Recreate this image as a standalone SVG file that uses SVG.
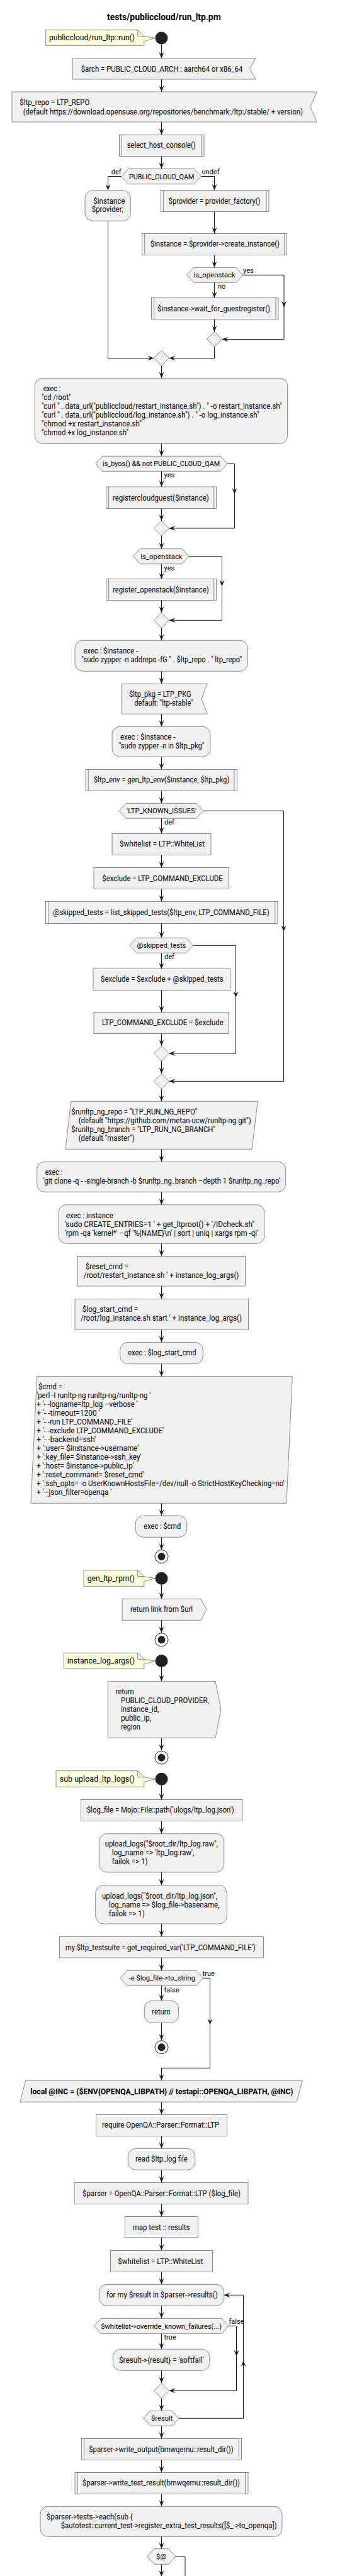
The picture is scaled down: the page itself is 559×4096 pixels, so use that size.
<svg xmlns="http://www.w3.org/2000/svg" width="559" height="4096" viewBox="0 0 559 4096">
<defs>
<style>
text{font-family:Roboto,"Liberation Sans",sans-serif;font-size:12px;fill:#000000}
.ttl{font-size:14px;font-weight:bold}
.nt{font-size:13px}
.s{font-size:11px}
.bd{font-weight:bold}
.b{fill:#F1F1F1;stroke:#181818;stroke-width:0.5}
.n{fill:#FEFFDD;stroke:#181818;stroke-width:0.5}
.f{fill:none;stroke:#181818;stroke-width:0.5}
.c{fill:none;stroke:#181818;stroke-width:1}
.ca{fill:none;stroke:#181818;stroke-width:1;marker-end:url(#ah)}
.st{fill:#222222}
.en{fill:none;stroke:#222222;stroke-width:1}
</style>
<marker id="ah" markerWidth="10" markerHeight="8" refX="10" refY="4" orient="auto" markerUnits="userSpaceOnUse"><path d="M0,0 L10,4 L0,8 L4,4 Z" fill="#181818"/></marker>
</defs>
<rect x="0" y="0" width="559" height="4096" fill="#FFFFFF"/>
<text class="ttl" x="170" y="32.3" textLength="180.7" lengthAdjust="spacingAndGlyphs">tests/publiccloud/run_ltp.pm</text>

<g id="connectors">
<path class="ca" d="M256.5,70.5 V92.7"/>
<path class="ca" d="M256.5,126 V146"/>
<path class="ca" d="M256.5,194 V214.3"/>
<path class="ca" d="M256.5,248.7 V268.3"/>
<path class="ca" d="M192.7,280.5 H171.5 V302.7"/>
<path class="ca" d="M319.3,280.5 H340.5 V302.7"/>
<path class="ca" d="M340.5,336.7 V371.3"/>
<path class="ca" d="M340.5,405.3 V425.3"/>
<path class="ca" d="M340.5,449.3 V473.7"/>
<path class="ca" d="M385.7,437.3 H451 V488.7"/>
<path class="ca" d="M451,488.7 V539.5 H352.5"/>
<path class="ca" d="M340.5,507.3 V527.5"/>
<path class="ca" d="M340.5,551.5 V569.5 H268.5"/>
<path class="ca" d="M171.5,351.3 V569.5 H244.5"/>
<path class="ca" d="M256.5,581.5 V601.3"/>
<path class="ca" d="M256.5,705.3 V725.3"/>
<path class="ca" d="M256.5,749.3 V774"/>
<path class="ca" d="M361,737.3 H372.5 V785.7"/>
<path class="ca" d="M372.5,785.7 V840 H268.5"/>
<path class="ca" d="M256.5,808.7 V828"/>
<path class="ca" d="M256.5,852 V872.7"/>
<path class="ca" d="M256.5,896.7 V920.7"/>
<path class="ca" d="M300,884.7 H352.5 V932.3"/>
<path class="ca" d="M352.5,932.3 V986.3 H268.5"/>
<path class="ca" d="M256.5,954.3 V974.3"/>
<path class="ca" d="M256.5,998.3 V1018.3"/>
<path class="ca" d="M256.5,1067.3 V1087.3"/>
<path class="ca" d="M256.5,1135.3 V1155.3"/>
<path class="ca" d="M256.5,1203.3 V1223.3"/>
<path class="ca" d="M256.5,1257.3 V1277.3"/>
<path class="ca" d="M256.5,1301.3 V1325.3"/>
<path class="ca" d="M322.7,1289.3 H450.5 V1481.3"/>
<path class="ca" d="M450.5,1481.3 V1719.3 H268.5"/>
<path class="ca" d="M256.5,1359.3 V1379.7"/>
<path class="ca" d="M256.5,1413.3 V1433.3"/>
<path class="ca" d="M256.5,1468.3 V1491.3"/>
<path class="ca" d="M256.5,1515.3 V1540.7"/>
<path class="ca" d="M306.7,1503.3 H374.5 V1586.3"/>
<path class="ca" d="M374.5,1586.3 V1675 H268.5"/>
<path class="ca" d="M256.5,1574.3 V1609.3"/>
<path class="ca" d="M256.5,1643.3 V1663"/>
<path class="ca" d="M256.5,1687 V1707.3"/>
<path class="ca" d="M256.5,1731.3 V1751.3"/>
<path class="ca" d="M256.5,1827.3 V1847.3"/>
<path class="ca" d="M256.5,1895.3 V1915.7"/>
<path class="ca" d="M256.5,1977.3 V1997.3"/>
<path class="ca" d="M256.5,2045 V2065.3"/>
<path class="ca" d="M256.5,2114.3 V2134.3"/>
<path class="ca" d="M256.5,2168.7 V2188.7"/>
<path class="ca" d="M256.5,2390.3 V2410"/>
<path class="ca" d="M256.5,2444.3 V2464.3"/>
<path class="ca" d="M256.5,2519.7 V2542.3"/>
<path class="ca" d="M256.5,2576.3 V2596.3"/>
<path class="ca" d="M256.5,2651 V2673.3"/>
<path class="ca" d="M256.5,2763.3 V2783.3"/>
<path class="ca" d="M256.5,2838.7 V2861.7"/>
<path class="ca" d="M256.5,2895.3 V2915.7"/>
<path class="ca" d="M256.5,2977 V2997.7"/>
<path class="ca" d="M256.5,3059 V3079.3"/>
<path class="ca" d="M256.5,3113 V3133.3"/>
<path class="ca" d="M256.5,3157.3 V3181.3"/>
<path class="ca" d="M322.7,3145.3 H333.5 V3219.7"/>
<path class="ca" d="M333.5,3219.7 V3288.3 H256.5 V3308"/>
<path class="ca" d="M256.5,3216.3 V3244"/>
<path class="ca" d="M256.5,3342.3 V3362.3"/>
<path class="ca" d="M256.5,3396.3 V3416.3"/>
<path class="ca" d="M256.5,3450.3 V3470.3"/>
<path class="ca" d="M256.5,3504.3 V3524.3"/>
<path class="ca" d="M256.5,3558 V3578.3"/>
<path class="ca" d="M256.5,3612.3 V3632.3"/>
<path class="ca" d="M256.5,3666.3 V3686.3"/>
<path class="ca" d="M256.5,3710.3 V3735.3"/>
<path class="ca" d="M363.3,3698.3 H375.5 V3746.7"/>
<path class="ca" d="M375.5,3746.7 V3801.3 H268.5"/>
<path class="ca" d="M256.5,3769.3 V3789.3"/>
<path class="ca" d="M256.5,3813.3 V3833.3"/>
<path class="ca" d="M284,3845.3 H386.5 V3753.3"/>
<path class="ca" d="M386.5,3753.3 V3649.3 H355.7"/>
<path class="ca" d="M256.5,3857.3 V3877.3"/>
<path class="ca" d="M256.5,3911.3 V3931.3"/>
<path class="ca" d="M256.5,3965.3 V3985.3"/>
<path class="ca" d="M256.5,4033.3 V4052.7"/>
<path class="ca" d="M256.5,4077.3 V4097"/>
<path class="c" d="M278.7,4065 H294 V4100"/>
<text class="s" x="176.7" y="277.3">def</text>
<text class="s" x="320.5" y="277.3">undef</text>
<text class="s" x="386" y="433.7">yes</text>
<text class="s" x="346" y="458.7">no</text>
<text class="s" x="260.5" y="759.3">yes</text>
<text class="s" x="260.5" y="906.7">yes</text>
<text class="s" x="261" y="1311.3">def</text>
<text class="s" x="261" y="1525.3">def</text>
<text class="s" x="321.7" y="3142.3">true</text>
<text class="s" x="260.5" y="3168">false</text>
<text class="s" x="363.5" y="3695.3">false</text>
<text class="s" x="260.5" y="3720">true</text>
</g>

<g id="start1">
<polygon class="n" points="72.7,47.7 218.7,47.7 228.7,57.7 246.5,60.5 228.7,65.7 228.7,72.3 72.7,72.3"/>
<path class="f" d="M218.7,47.7 V57.7 H228.7"/>
<text class="nt" x="78" y="64.3" textLength="136" lengthAdjust="spacingAndGlyphs">publiccloud/run_ltp::run()</text>
<circle class="st" cx="256.5" cy="60.5" r="10"/>
</g>

<g id="arch">
<polygon class="b" points="115.3,92.7 406,92.7 396.7,109.3 406,126 115.3,126"/>
<text x="128.7" y="113.5" textLength="256.7" lengthAdjust="spacingAndGlyphs">$arch = PUBLIC_CLOUD_ARCH : aarch64 or x86_64</text>
</g>

<g id="ltp_repo">
<polygon class="b" points="19,146 503.3,146 492.7,170 503.3,194 19,194"/>
<text x="31.3" y="167.3" textLength="111" lengthAdjust="spacingAndGlyphs">$ltp_repo = LTP_REPO</text>
<text x="36.7" y="181.5" textLength="444.3" lengthAdjust="spacingAndGlyphs">(default https://download.opensuse.org/repositories/benchmark:/ltp:/stable/ + version)</text>
</g>

<g id="select_host_console">
<rect class="b" x="189.3" y="214.3" width="134.7" height="34.4"/>
<path class="f" d="M193.3,214.3 V248.7 M320,214.3 V248.7"/>
<text x="201.7" y="235.3" textLength="109" lengthAdjust="spacingAndGlyphs">select_host_console()</text>
</g>

<g id="qam">
<polygon class="b" points="192.7,280.5 203.7,268.3 308.3,268.3 319.3,280.5 308.3,292.7 203.7,292.7"/>
<text class="s" x="205" y="284.8" textLength="103.3" lengthAdjust="spacingAndGlyphs">PUBLIC_CLOUD_QAM</text>
</g>

<g id="inst_prov">
<rect class="b" x="135" y="302.7" width="72.3" height="48.6" rx="12.5" ry="12.5"/>
<text x="148.3" y="323.5" textLength="50.3" lengthAdjust="spacingAndGlyphs">$instance</text>
<text x="145.7" y="337.3" textLength="50.3" lengthAdjust="spacingAndGlyphs">$provider;</text>
</g>

<g id="provider_factory">
<rect class="b" x="255.7" y="302.7" width="171.3" height="34"/>
<path class="f" d="M259.7,302.7 V336.7 M423,302.7 V336.7"/>
<text x="267.7" y="323.5" textLength="145.7" lengthAdjust="spacingAndGlyphs">$provider = provider_factory()</text>
</g>

<g id="create_instance">
<rect class="b" x="225.7" y="371.3" width="230" height="34"/>
<path class="f" d="M229.7,371.3 V405.3 M451.7,371.3 V405.3"/>
<text x="238.7" y="392.2" textLength="205.3" lengthAdjust="spacingAndGlyphs">$instance = $provider-&gt;create_instance()</text>
</g>

<g id="is_openstack1">
<polygon class="b" points="296.7,437.3 307.7,425.3 374.7,425.3 385.7,437.3 374.7,449.3 307.7,449.3"/>
<text class="s" x="307.7" y="441.3" textLength="66" lengthAdjust="spacingAndGlyphs">is_openstack</text>
</g>

<g id="wait_guest">
<rect class="b" x="240.7" y="473.7" width="201.3" height="33.6"/>
<path class="f" d="M244.7,473.7 V507.3 M438,473.7 V507.3"/>
<text x="250" y="494.7" textLength="179" lengthAdjust="spacingAndGlyphs">$instance-&gt;wait_for_guestregister()</text>
</g>

<g id="merge1">
<polygon class="b" points="340.5,527.5 352.5,539.5 340.5,551.5 328.5,539.5"/>
</g>
<g id="merge2">
<polygon class="b" points="256.5,557.5 268.5,569.5 256.5,581.5 244.5,569.5"/>
</g>

<g id="exec_curl">
<rect class="b" x="55.3" y="601.3" width="401.4" height="104" rx="12.5" ry="12.5"/>
<text x="68.7" y="622.3" textLength="27.3" lengthAdjust="spacingAndGlyphs">exec :</text>
<text x="66" y="636.3" textLength="46.7" lengthAdjust="spacingAndGlyphs">"cd /root"</text>
<text x="66" y="650.3" textLength="381.7" lengthAdjust="spacingAndGlyphs">"curl " . data_url("publiccloud/restart_instance.sh") . " -o restart_instance.sh"</text>
<text x="66" y="664.3" textLength="345.7" lengthAdjust="spacingAndGlyphs">"curl " . data_url("publiccloud/log_instance.sh") . " -o log_instance.sh"</text>
<text x="66" y="678.3" textLength="159" lengthAdjust="spacingAndGlyphs">"chmod +x restart_instance.sh"</text>
<text x="66" y="692.3" textLength="138" lengthAdjust="spacingAndGlyphs">"chmod +x log_instance.sh"</text>
</g>

<g id="is_byos">
<polygon class="b" points="151.7,737.3 162.7,725.3 350,725.3 361,737.3 350,749.3 162.7,749.3"/>
<text class="s" x="163" y="741.3" textLength="186.3" lengthAdjust="spacingAndGlyphs">is_byos() &amp;&amp; not PUBLIC_CLOUD_QAM</text>
</g>

<g id="registercloudguest">
<rect class="b" x="168.7" y="774" width="175" height="34.7"/>
<path class="f" d="M172.7,774 V808.7 M339.7,774 V808.7"/>
<text x="179" y="795.7" textLength="152.7" lengthAdjust="spacingAndGlyphs">registercloudguest($instance)</text>
</g>

<g id="merge3">
<polygon class="b" points="256.5,828 268.5,840 256.5,852 244.5,840"/>
</g>

<g id="is_openstack2">
<polygon class="b" points="211.7,884.7 222.7,872.7 289,872.7 300,884.7 289,896.7 222.7,896.7"/>
<text class="s" x="223.3" y="888.7" textLength="66.3" lengthAdjust="spacingAndGlyphs">is_openstack</text>
</g>

<g id="register_openstack">
<rect class="b" x="168.7" y="920.7" width="175" height="33.6"/>
<path class="f" d="M172.7,920.7 V954.3 M339.7,920.7 V954.3"/>
<text x="179" y="941.7" textLength="152.7" lengthAdjust="spacingAndGlyphs">register_openstack($instance)</text>
</g>

<g id="merge4">
<polygon class="b" points="256.5,974.3 268.5,986.3 256.5,998.3 244.5,986.3"/>
</g>

<g id="addrepo">
<rect class="b" x="119" y="1018.3" width="274.3" height="49" rx="12.5" ry="12.5"/>
<text x="132.3" y="1039.3" textLength="86.7" lengthAdjust="spacingAndGlyphs">exec : $instance -</text>
<text x="129.3" y="1053.3" textLength="254.7" lengthAdjust="spacingAndGlyphs">"sudo zypper -n addrepo -fG " . $ltp_repo . " ltp_repo"</text>
</g>

<g id="ltp_pkg">
<polygon class="b" points="193,1087.3 329.3,1087.3 320,1111.3 329.3,1135.3 193,1135.3"/>
<text x="205" y="1107.5" textLength="98.7" lengthAdjust="spacingAndGlyphs">$ltp_pkg = LTP_PKG</text>
<text x="213.3" y="1121.5" textLength="93.7" lengthAdjust="spacingAndGlyphs">default: "ltp-stable"</text>
</g>

<g id="zypper_in">
<rect class="b" x="178" y="1155.3" width="156" height="48" rx="12.5" ry="12.5"/>
<text x="191" y="1175.5" textLength="87.3" lengthAdjust="spacingAndGlyphs">exec : $instance -</text>
<text x="188.7" y="1189.5" textLength="135.7" lengthAdjust="spacingAndGlyphs">"sudo zypper -n in $ltp_pkg"</text>
</g>

<g id="gen_ltp_env">
<rect class="b" x="136" y="1223.3" width="240.3" height="34"/>
<path class="f" d="M140.3,1223.3 V1257.3 M372,1223.3 V1257.3"/>
<text x="149" y="1243.9" textLength="215.3" lengthAdjust="spacingAndGlyphs">$ltp_env = gen_ltp_env($instance, $ltp_pkg)</text>
</g>

<g id="known_issues">
<polygon class="b" points="189.3,1289.3 200.3,1277.3 311.7,1277.3 322.7,1289.3 311.7,1301.3 200.3,1301.3"/>
<text class="s" x="201.3" y="1293.3" textLength="110.7" lengthAdjust="spacingAndGlyphs">'LTP_KNOWN_ISSUES'</text>
</g>

<g id="whitelist1">
<rect class="b" x="178" y="1325.3" width="157" height="34"/>
<text x="190" y="1346.2" textLength="135" lengthAdjust="spacingAndGlyphs">$whitelist = LTP::WhiteList</text>
</g>

<g id="exclude1">
<rect class="b" x="149" y="1379.7" width="214" height="33.6"/>
<text x="162.3" y="1400.7" textLength="191.3" lengthAdjust="spacingAndGlyphs">$exclude = LTP_COMMAND_EXCLUDE</text>
</g>

<g id="list_skipped">
<rect class="b" x="72.3" y="1433.3" width="368.7" height="35"/>
<path class="f" d="M76.5,1433.3 V1468.3 M436.8,1433.3 V1468.3"/>
<text x="84.3" y="1454.7" textLength="343.3" lengthAdjust="spacingAndGlyphs">@skipped_tests = list_skipped_tests($ltp_env, LTP_COMMAND_FILE)</text>
</g>

<g id="skipped_cond">
<polygon class="b" points="206,1503.3 217,1491.3 295.7,1491.3 306.7,1503.3 295.7,1515.3 217,1515.3"/>
<text class="s" x="217.3" y="1507.3" textLength="78" lengthAdjust="spacingAndGlyphs">@skipped_tests</text>
</g>

<g id="exclude2">
<rect class="b" x="148" y="1540.7" width="217.3" height="33.6"/>
<text x="160" y="1561.2" textLength="194.7" lengthAdjust="spacingAndGlyphs">$exclude = $exclude + @skipped_tests</text>
</g>

<g id="exclude3">
<rect class="b" x="149" y="1609.3" width="214" height="34"/>
<text x="162" y="1630.2" textLength="192.7" lengthAdjust="spacingAndGlyphs">LTP_COMMAND_EXCLUDE = $exclude</text>
</g>

<g id="merge5">
<polygon class="b" points="256.5,1663 268.5,1675 256.5,1687 244.5,1675"/>
</g>
<g id="merge6">
<polygon class="b" points="256.5,1707.3 268.5,1719.3 256.5,1731.3 244.5,1719.3"/>
</g>

<g id="runltp_ng">
<polygon class="b" points="112.7,1751.3 409.3,1751.3 400,1827.3 104,1827.3"/>
<text x="113.3" y="1772" textLength="200" lengthAdjust="spacingAndGlyphs">$runltp_ng_repo = "LTP_RUN_NG_REPO"</text>
<text x="124.7" y="1786" textLength="274" lengthAdjust="spacingAndGlyphs">(default "https://github.com/metan-ucw/runltp-ng.git")</text>
<text x="113.3" y="1800" textLength="228.7" lengthAdjust="spacingAndGlyphs">$runltp_ng_branch = "LTP_RUN_NG_BRANCH"</text>
<text x="124.7" y="1814" textLength="89" lengthAdjust="spacingAndGlyphs">(default "master")</text>
</g>

<g id="git_clone">
<rect class="b" x="58.7" y="1847.3" width="395" height="48" rx="12.5" ry="12.5"/>
<text x="71.7" y="1868.2" textLength="27.3" lengthAdjust="spacingAndGlyphs">exec :</text>
<text x="68.7" y="1882.2" textLength="376" lengthAdjust="spacingAndGlyphs">'git clone -q - -single-branch -b $runltp_ng_branch –depth 1 $runltp_ng_repo'</text>
</g>

<g id="idcheck">
<rect class="b" x="93" y="1915.7" width="327" height="61.6" rx="12.5" ry="12.5"/>
<text x="105" y="1936.5" textLength="75" lengthAdjust="spacingAndGlyphs">exec : instance</text>
<text x="102.7" y="1950.5" textLength="301.3" lengthAdjust="spacingAndGlyphs">'sudo CREATE_ENTRIES=1 ' + get_ltproot() + '/IDcheck.sh''</text>
<text x="102.7" y="1964.5" textLength="307.3" lengthAdjust="spacingAndGlyphs">'rpm -qa 'kernel*' –qf '%{NAME}\n' | sort | uniq | xargs rpm -qi'</text>
</g>

<g id="reset_cmd">
<rect class="b" x="123.7" y="1997.3" width="265.6" height="47.7"/>
<text x="136" y="2018.2" textLength="68" lengthAdjust="spacingAndGlyphs">$reset_cmd =</text>
<text x="132.7" y="2032.2" textLength="246.7" lengthAdjust="spacingAndGlyphs">/root/restart_instance.sh ' + instance_log_args()</text>
</g>

<g id="log_start_cmd">
<rect class="b" x="119" y="2065.3" width="275.3" height="49"/>
<text x="131" y="2086" textLength="88" lengthAdjust="spacingAndGlyphs">$log_start_cmd =</text>
<text x="128" y="2100" textLength="256" lengthAdjust="spacingAndGlyphs">/root/log_instance.sh start ' + instance_log_args()</text>
</g>

<g id="exec_log_start">
<rect class="b" x="190.7" y="2134.3" width="131.6" height="34.4" rx="12.5" ry="12.5"/>
<text x="203" y="2155" textLength="108.7" lengthAdjust="spacingAndGlyphs">exec : $log_start_cmd</text>
</g>

<g id="cmd">
<polygon class="b" points="58.7,2188.7 464.3,2188.7 455,2390.3 49,2390.3"/>
<text x="61" y="2209" textLength="38" lengthAdjust="spacingAndGlyphs">$cmd =</text>
<text x="58.3" y="2223" textLength="181" lengthAdjust="spacingAndGlyphs">'perl -I runltp-ng runltp-ng/runltp-ng '</text>
<text x="58.3" y="2237" textLength="160.3" lengthAdjust="spacingAndGlyphs">+ '- -logname=ltp_log –verbose '</text>
<text x="58.3" y="2251" textLength="100.3" lengthAdjust="spacingAndGlyphs">+ '- -timeout=1200 '</text>
<text x="58.3" y="2265" textLength="152.3" lengthAdjust="spacingAndGlyphs">+ '- -run LTP_COMMAND_FILE'</text>
<text x="58.3" y="2279" textLength="201.7" lengthAdjust="spacingAndGlyphs">+ '- -exclude LTP_COMMAND_EXCLUDE'</text>
<text x="58.3" y="2293" textLength="93.7" lengthAdjust="spacingAndGlyphs">+ '- -backend=ssh'</text>
<text x="58.3" y="2307" textLength="162.3" lengthAdjust="spacingAndGlyphs">+ ':user= $instance-&gt;username'</text>
<text x="58.3" y="2321" textLength="166.3" lengthAdjust="spacingAndGlyphs">+ ':key_file= $instance-&gt;ssh_key'</text>
<text x="58.3" y="2335" textLength="154.3" lengthAdjust="spacingAndGlyphs">+ ':host= $instance-&gt;public_ip'</text>
<text x="58.3" y="2349" textLength="170.3" lengthAdjust="spacingAndGlyphs">+ ':reset_command= $reset_cmd'</text>
<text x="58.3" y="2363" textLength="393.3" lengthAdjust="spacingAndGlyphs">+ ':ssh_opts= -o UserKnownHostsFile=/dev/null -o StrictHostKeyChecking=no'</text>
<text x="58.3" y="2377" textLength="119" lengthAdjust="spacingAndGlyphs">+ '–json_filter=openqa '</text>
</g>

<g id="exec_cmd">
<rect class="b" x="215.3" y="2410" width="81.4" height="34.3" rx="12.5" ry="12.5"/>
<text x="228.3" y="2431.2" textLength="59" lengthAdjust="spacingAndGlyphs">exec : $cmd</text>
</g>

<g id="end1">
<circle class="en" cx="256.5" cy="2475" r="10.5"/>
<circle class="st" cx="256.5" cy="2475" r="6"/>
</g>

<g id="start2">
<polygon class="n" points="133,2496.7 218.7,2496.7 228.7,2506.7 246.5,2509.7 228.7,2514.5 228.7,2522.3 133,2522.3"/>
<path class="f" d="M218.7,2496.7 V2506.7 H228.7"/>
<text class="nt" x="138.7" y="2514" textLength="75.3" lengthAdjust="spacingAndGlyphs">gen_ltp_rpm()</text>
<circle class="st" cx="256.5" cy="2509.7" r="10"/>
</g>

<g id="return_link">
<polygon class="b" points="194,2542.3 319,2542.3 328,2559.3 319,2576.3 194,2576.3"/>
<text x="207" y="2563" textLength="99" lengthAdjust="spacingAndGlyphs">return link from $url</text>
</g>

<g id="end2">
<circle class="en" cx="256.5" cy="2607.3" r="10.5"/>
<circle class="st" cx="256.5" cy="2607.3" r="6"/>
</g>

<g id="start3">
<polygon class="n" points="101.3,2628.3 218.7,2628.3 228.7,2638.3 246.5,2641 228.7,2646 228.7,2653.6 101.3,2653.6"/>
<path class="f" d="M218.7,2628.3 V2638.3 H228.7"/>
<text class="nt" x="106.7" y="2645" textLength="107.3" lengthAdjust="spacingAndGlyphs">instance_log_args()</text>
<circle class="st" cx="256.5" cy="2641" r="10"/>
</g>

<g id="return_args">
<polygon class="b" points="171.3,2673.3 342,2673.3 351,2718.3 342,2763.3 171.3,2763.3"/>
<text x="183.7" y="2694.3" textLength="29" lengthAdjust="spacingAndGlyphs">return</text>
<text x="192" y="2708.3" textLength="139.7" lengthAdjust="spacingAndGlyphs">PUBLIC_CLOUD_PROVIDER,</text>
<text x="192" y="2722.3" textLength="60.3" lengthAdjust="spacingAndGlyphs">instance_id,</text>
<text x="192" y="2736.3" textLength="48" lengthAdjust="spacingAndGlyphs">public_ip,</text>
<text x="192" y="2750.3" textLength="31" lengthAdjust="spacingAndGlyphs">region</text>
</g>

<g id="end3">
<circle class="en" cx="256.5" cy="2794.7" r="10.5"/>
<circle class="st" cx="256.5" cy="2794.7" r="6"/>
</g>

<g id="start4">
<polygon class="n" points="89,2815.7 218.7,2815.7 228.7,2825.7 246.5,2828.7 228.7,2833.5 228.7,2841.3 89,2841.3"/>
<path class="f" d="M218.7,2815.7 V2825.7 H228.7"/>
<text class="nt" x="94.7" y="2833" textLength="119.3" lengthAdjust="spacingAndGlyphs">sub upload_ltp_logs()</text>
<circle class="st" cx="256.5" cy="2828.7" r="10"/>
</g>

<g id="log_file">
<rect class="b" x="128.3" y="2861.7" width="256.7" height="33.6"/>
<text x="137.7" y="2882.3" textLength="234" lengthAdjust="spacingAndGlyphs">$log_file = Mojo::File::path('ulogs/ltp_log.json')</text>
</g>

<g id="upload_raw">
<rect class="b" x="157.3" y="2915.7" width="198.4" height="61.3" rx="12.5" ry="12.5"/>
<text x="166.7" y="2936.3" textLength="179.3" lengthAdjust="spacingAndGlyphs">upload_logs("$root_dir/ltp_log.raw",</text>
<text x="177.7" y="2950.3" textLength="130.7" lengthAdjust="spacingAndGlyphs">log_name =&gt; 'ltp_log.raw',</text>
<text x="177.7" y="2964.3" textLength="56.7" lengthAdjust="spacingAndGlyphs">failok =&gt; 1)</text>
</g>

<g id="upload_json">
<rect class="b" x="151.7" y="2997.7" width="208.6" height="61.3" rx="12.5" ry="12.5"/>
<text x="162" y="3018.5" textLength="183" lengthAdjust="spacingAndGlyphs">upload_logs("$root_dir/ltp_log.json",</text>
<text x="172.7" y="3032.5" textLength="175.7" lengthAdjust="spacingAndGlyphs">log_name =&gt; $log_file-&gt;basename,</text>
<text x="172.7" y="3046.5" textLength="57" lengthAdjust="spacingAndGlyphs">failok =&gt; 1)</text>
</g>

<g id="testsuite">
<rect class="b" x="94.7" y="3079.3" width="323.6" height="33.7"/>
<text x="103.7" y="3100.5" textLength="302" lengthAdjust="spacingAndGlyphs">my $ltp_testsuite = get_required_var('LTP_COMMAND_FILE')</text>
</g>

<g id="log_exists">
<polygon class="b" points="191,3145.3 202,3133.3 311.7,3133.3 322.7,3145.3 311.7,3157.3 202,3157.3"/>
<text class="s" x="204.7" y="3149.3" textLength="105.3" lengthAdjust="spacingAndGlyphs">-e $log_file-&gt;to_string</text>
</g>

<g id="return_early">
<rect class="b" x="229.3" y="3181.3" width="54.4" height="35" rx="12.5" ry="12.5"/>
<text x="241.3" y="3202.5" textLength="29.3" lengthAdjust="spacingAndGlyphs">return</text>
</g>

<g id="end4">
<circle class="en" cx="256.5" cy="3255.3" r="10.5"/>
<circle class="st" cx="256.5" cy="3255.3" r="6"/>
</g>

<g id="local_inc">
<polygon class="b" points="40.7,3308 480.3,3308 471,3342.3 32,3342.3"/>
<text class="bd" x="48.3" y="3329.7" textLength="417.3" lengthAdjust="spacingAndGlyphs">local @INC = ($ENV{OPENQA_LIBPATH} // testapi::OPENQA_LIBPATH, @INC)</text>
</g>

<g id="require_ltp">
<rect class="b" x="152.7" y="3362.3" width="208" height="34"/>
<text x="162" y="3383.3" textLength="186" lengthAdjust="spacingAndGlyphs">require OpenQA::Parser::Format::LTP</text>
</g>

<g id="read_log">
<rect class="b" x="203.3" y="3416.3" width="106.4" height="34" rx="12.5" ry="12.5"/>
<text x="215" y="3437.3" textLength="82.7" lengthAdjust="spacingAndGlyphs">read $ltp_log file</text>
</g>

<g id="parser">
<rect class="b" x="118" y="3470.3" width="276" height="34"/>
<text x="131" y="3491.5" textLength="251" lengthAdjust="spacingAndGlyphs">$parser = OpenQA::Parser::Format::LTP ($log_file)</text>
</g>

<g id="map_test">
<rect class="b" x="198.7" y="3524.3" width="115.6" height="33.7"/>
<text x="210.7" y="3545.5" textLength="90.7" lengthAdjust="spacingAndGlyphs">map test :: results</text>
</g>

<g id="whitelist2">
<rect class="b" x="175.3" y="3578.3" width="162.4" height="34"/>
<text x="187.3" y="3599.5" textLength="135" lengthAdjust="spacingAndGlyphs">$whitelist = LTP::WhiteList</text>
</g>

<g id="for_results">
<rect class="b" x="157.3" y="3632.3" width="198.4" height="34" rx="12.5" ry="12.5"/>
<text x="169" y="3653.3" textLength="176.7" lengthAdjust="spacingAndGlyphs">for my $result in $parser-&gt;results()</text>
</g>

<g id="override">
<polygon class="b" points="149.3,3698.3 160.3,3686.3 352.3,3686.3 363.3,3698.3 352.3,3710.3 160.3,3710.3"/>
<text class="s" x="160.3" y="3702.5" textLength="191.7" lengthAdjust="spacingAndGlyphs">$whitelist-&gt;override_known_failures(...)</text>
</g>

<g id="softfail">
<rect class="b" x="179.3" y="3735.3" width="153.7" height="34" rx="12.5" ry="12.5"/>
<text x="189" y="3756.5" textLength="134.7" lengthAdjust="spacingAndGlyphs">$result-&gt;{result} = 'softfail'</text>
</g>

<g id="merge7">
<polygon class="b" points="256.5,3789.3 268.5,3801.3 256.5,3813.3 244.5,3801.3"/>
</g>

<g id="result_cond">
<polygon class="b" points="227.7,3845.3 238.7,3833.3 273,3833.3 284,3845.3 273,3857.3 238.7,3857.3"/>
<text class="s" x="240" y="3849" textLength="34.3" lengthAdjust="spacingAndGlyphs">$result</text>
</g>

<g id="write_output">
<rect class="b" x="129.3" y="3877.3" width="254.4" height="34"/>
<path class="f" d="M133.6,3877.3 V3911.3 M379.4,3877.3 V3911.3"/>
<text x="141.3" y="3898.5" textLength="229.3" lengthAdjust="spacingAndGlyphs">$parser-&gt;write_output(bmwqemu::result_dir())</text>
</g>

<g id="write_test_result">
<rect class="b" x="119" y="3931.3" width="275" height="34"/>
<path class="f" d="M123.4,3931.3 V3965.3 M389.6,3931.3 V3965.3"/>
<text x="131" y="3952.3" textLength="250" lengthAdjust="spacingAndGlyphs">$parser-&gt;write_test_result(bmwqemu::result_dir())</text>
</g>

<g id="tests_each">
<rect class="b" x="64" y="3985.3" width="384" height="48" rx="12.5" ry="12.5"/>
<text x="74" y="4006.3" textLength="136.7" lengthAdjust="spacingAndGlyphs">$parser-&gt;tests-&gt;each(sub {</text>
<text x="96.7" y="4020.3" textLength="342.7" lengthAdjust="spacingAndGlyphs">$autotest::current_test-&gt;register_extra_test_results([$_-&gt;to_openqa])</text>
</g>

<g id="eval_err">
<polygon class="b" points="234,4065 245,4052.7 267.7,4052.7 278.7,4065 267.7,4077.3 245,4077.3"/>
<text class="s" x="248" y="4069.3" textLength="16.3" lengthAdjust="spacingAndGlyphs">$@</text>
</g>
</svg>
